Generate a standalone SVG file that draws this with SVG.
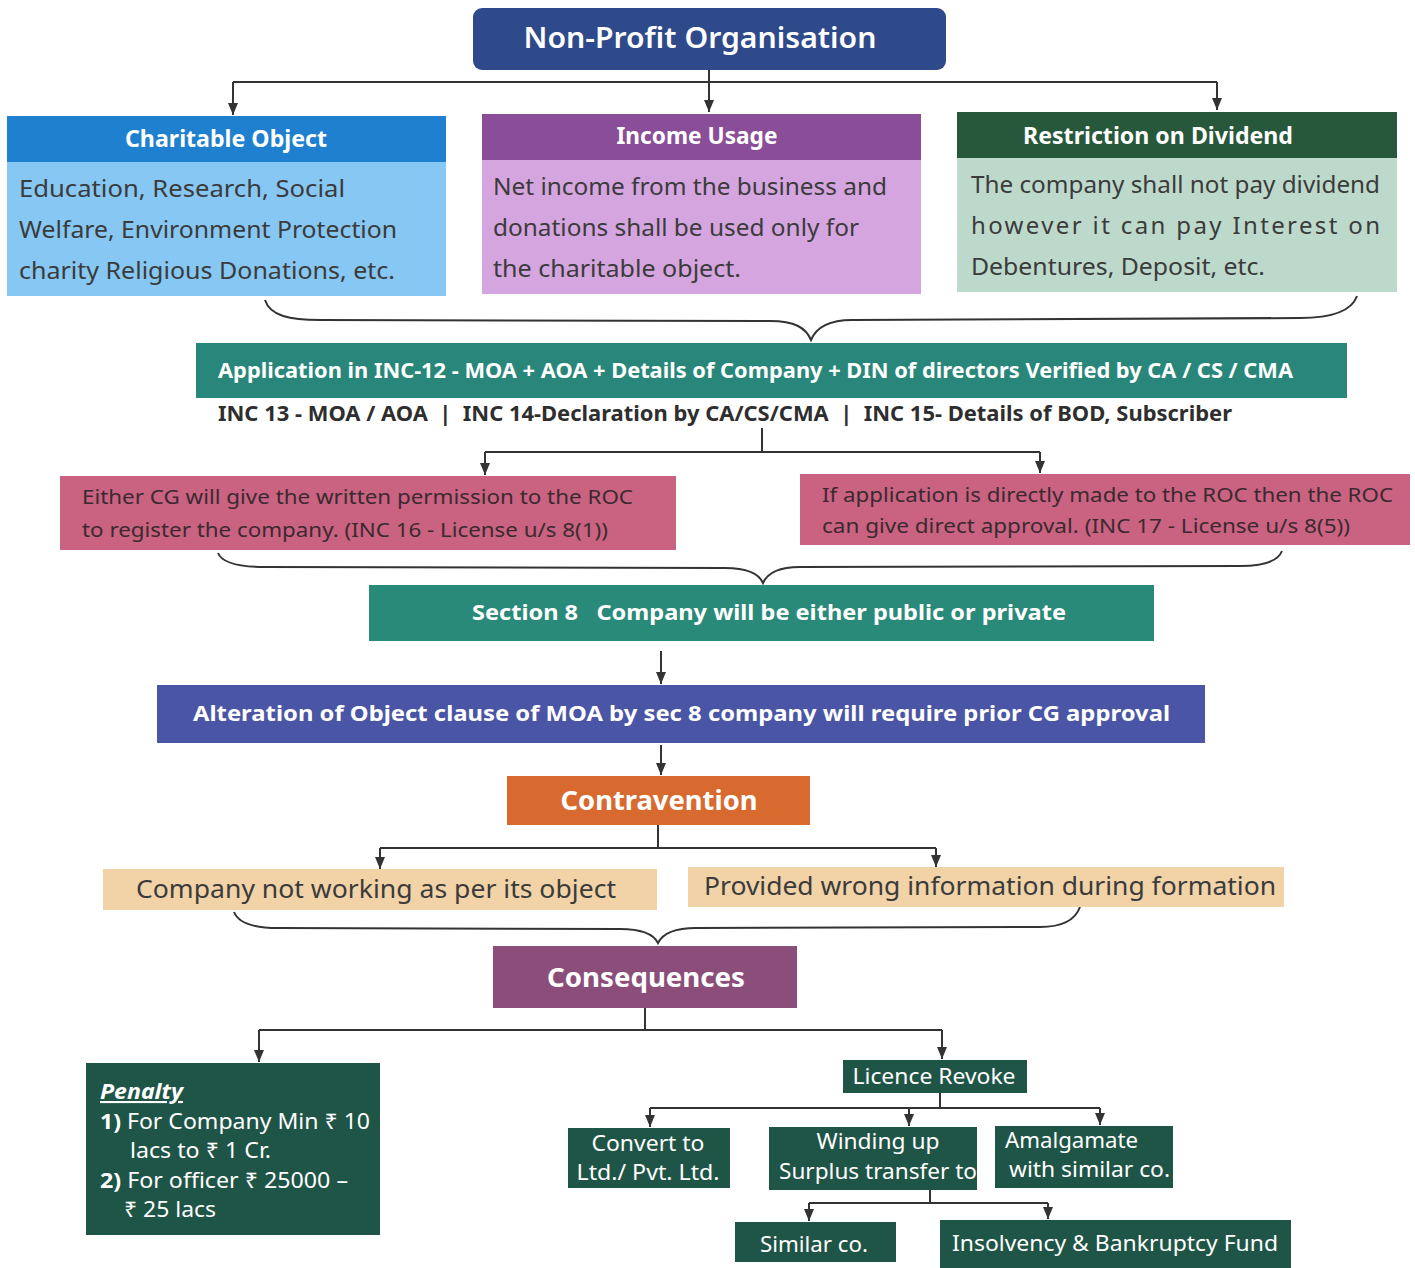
<svg xmlns="http://www.w3.org/2000/svg" width="1415" height="1268" viewBox="0 0 1415 1268">
<defs>
<marker id="ah" viewBox="0 0 12 10" refX="12" refY="5" markerWidth="12" markerHeight="10" markerUnits="userSpaceOnUse" orient="auto">
<path d="M0,0 L12,5 L0,10 Z" fill="#333"/>
</marker>
<style>
text{font-family:"Noto Sans","Open Sans","DejaVu Sans",sans-serif;}
.w{fill:#ffffff;}
.body{fill:#3b3b3b;font-size:24px;}
.hd{font-size:23px;font-weight:bold;fill:#fff;}
.bar{font-size:21px;font-weight:bold;fill:#fff;}
.pk{font-size:20px;fill:#3a2a30;}
.tan{font-size:25px;fill:#3b3b3b;}
.dg{font-size:21px;fill:#fff;}
.ln{fill:none;stroke:#333;stroke-width:2;}
.br{fill:none;stroke:#333;stroke-width:2;}
</style>
</defs>
<rect width="1415" height="1268" fill="#ffffff"/>

<g id="connectors">
<path class="ln" d="M709,70 V82 M233,82 H1217"/>
<path class="ln" d="M233,82 V115" marker-end="url(#ah)"/>
<path class="ln" d="M709,82 V112" marker-end="url(#ah)"/>
<path class="ln" d="M1217,82 V110" marker-end="url(#ah)"/>
<path class="br" d="M265,300 C270,316 290,320 320,320 L770,321 C795,321 806,328 811,340 C816,328 827,320 852,320 L1300,318 C1335,318 1352,310 1357,296"/>
<path class="ln" d="M762,428 V452 M485,452 H1040"/>
<path class="ln" d="M485,452 V475" marker-end="url(#ah)"/>
<path class="ln" d="M1040,452 V473" marker-end="url(#ah)"/>
<path class="br" d="M218,553 C222,563 238,567 265,567 L725,568 C748,568 759,574 763,583 C767,574 778,567 800,567 L1240,566 C1265,566 1278,561 1282,551"/>
<path class="ln" d="M661,651 V684" marker-end="url(#ah)"/>
<path class="ln" d="M661,745 V775" marker-end="url(#ah)"/>
<path class="ln" d="M658,825 V848 M380,848 H936"/>
<path class="ln" d="M380,848 V869" marker-end="url(#ah)"/>
<path class="ln" d="M936,848 V867" marker-end="url(#ah)"/>
<path class="br" d="M234,912 C238,922 252,928 278,928 L620,929 C643,929 654,935 658,943 C662,935 673,928 696,928 L1040,927 C1066,927 1076,918 1080,907"/>
<path class="ln" d="M645,1008 V1030 M259,1030 H942"/>
<path class="ln" d="M259,1030 V1062" marker-end="url(#ah)"/>
<path class="ln" d="M942,1030 V1059" marker-end="url(#ah)"/>
<path class="ln" d="M940,1093 V1108 M650,1108 H1100"/>
<path class="ln" d="M650,1108 V1127" marker-end="url(#ah)"/>
<path class="ln" d="M909,1108 V1126" marker-end="url(#ah)"/>
<path class="ln" d="M1100,1108 V1125" marker-end="url(#ah)"/>
<path class="ln" d="M930,1190 V1203 M809,1203 H1048"/>
<path class="ln" d="M809,1203 V1221" marker-end="url(#ah)"/>
<path class="ln" d="M1048,1203 V1219" marker-end="url(#ah)"/>
</g>

<g id="node-npo">
<rect x="473" y="8" width="473" height="62" rx="9" fill="#2f4a8a"/>
<text x="700" y="48" text-anchor="middle" class="w" font-size="29" font-weight="600" textLength="353" lengthAdjust="spacingAndGlyphs">Non-Profit Organisation</text>
</g>

<g id="node-charitable">
<rect x="7" y="116" width="439" height="46" fill="#1e80cf"/>
<rect x="7" y="162" width="439" height="134" fill="#86c7f3"/>
<text x="226" y="147" text-anchor="middle" class="hd" textLength="202" lengthAdjust="spacingAndGlyphs">Charitable Object</text>
<text x="19" y="197" class="body" textLength="326" lengthAdjust="spacingAndGlyphs">Education, Research, Social</text>
<text x="19" y="238" class="body" textLength="378" lengthAdjust="spacingAndGlyphs">Welfare, Environment Protection</text>
<text x="19" y="279" class="body" textLength="376" lengthAdjust="spacingAndGlyphs">charity Religious Donations, etc.</text>
</g>

<g id="node-income">
<rect x="482" y="114" width="439" height="46" fill="#8a4e98"/>
<rect x="482" y="160" width="439" height="134" fill="#d5a5e0"/>
<text x="697" y="144" text-anchor="middle" class="hd" textLength="161" lengthAdjust="spacingAndGlyphs">Income Usage</text>
<text x="493" y="195" class="body" textLength="394" lengthAdjust="spacingAndGlyphs">Net income from the business and</text>
<text x="493" y="236" class="body" textLength="366" lengthAdjust="spacingAndGlyphs">donations shall be used only for</text>
<text x="493" y="277" class="body" textLength="248" lengthAdjust="spacingAndGlyphs">the charitable object.</text>
</g>

<g id="node-dividend">
<rect x="957" y="112" width="440" height="46" fill="#27583b"/>
<rect x="957" y="158" width="440" height="134" fill="#bdd9cc"/>
<text x="1158" y="144" text-anchor="middle" class="hd" textLength="270" lengthAdjust="spacingAndGlyphs">Restriction on Dividend</text>
<text x="971" y="193" class="body" textLength="409" lengthAdjust="spacingAndGlyphs">The company shall not pay dividend</text>
<text x="971" y="234" class="body" textLength="409" lengthAdjust="spacing">however it can pay Interest on</text>
<text x="971" y="275" class="body" textLength="294" lengthAdjust="spacingAndGlyphs">Debentures, Deposit, etc.</text>
</g>

<g id="node-application">
<rect x="196" y="343" width="1151" height="55" fill="#28877a"/>
<text x="218" y="378" class="bar" textLength="1075" lengthAdjust="spacingAndGlyphs">Application in INC-12 - MOA + AOA + Details of Company + DIN of directors Verified by CA / CS / CMA</text>
</g>

<g id="node-inc">
<text x="218" y="421" font-size="21" font-weight="bold" fill="#2e2e2e" textLength="1014" lengthAdjust="spacingAndGlyphs" xml:space="preserve">INC 13 - MOA / AOA  |  INC 14-Declaration by CA/CS/CMA  |  INC 15- Details of BOD, Subscriber</text>
</g>

<g id="node-cg">
<rect x="60" y="476" width="616" height="74" fill="#ca6281"/>
<text x="82" y="504" class="pk" textLength="551" lengthAdjust="spacingAndGlyphs">Either CG will give the written permission to the ROC</text>
<text x="82" y="537" class="pk" textLength="526" lengthAdjust="spacingAndGlyphs">to register the company. (INC 16 - License u/s 8(1))</text>
</g>

<g id="node-roc">
<rect x="800" y="474" width="610" height="71" fill="#ca6281"/>
<text x="822" y="502" class="pk" textLength="571" lengthAdjust="spacingAndGlyphs">If application is directly made to the ROC then the ROC</text>
<text x="822" y="533" class="pk" textLength="528" lengthAdjust="spacingAndGlyphs">can give direct approval. (INC 17 - License u/s 8(5))</text>
</g>

<g id="node-section8">
<rect x="369" y="585" width="785" height="56" fill="#2a8a7a"/>
<text x="472" y="620" class="bar" textLength="594" lengthAdjust="spacingAndGlyphs" xml:space="preserve">Section 8   Company will be either public or private</text>
</g>

<g id="node-alteration">
<rect x="157" y="685" width="1048" height="58" fill="#4a55a6"/>
<text x="193" y="721" class="bar" textLength="977" lengthAdjust="spacingAndGlyphs">Alteration of Object clause of MOA by sec 8 company will require prior CG approval</text>
</g>

<g id="node-contravention">
<rect x="507" y="776" width="303" height="49" fill="#d96a2f"/>
<text x="659" y="810" text-anchor="middle" font-size="27" font-weight="bold" fill="#fff" textLength="197" lengthAdjust="spacingAndGlyphs">Contravention</text>
</g>

<g id="node-notworking">
<rect x="103" y="869" width="554" height="41" fill="#f1d3a7"/>
<text x="136" y="898" class="tan" textLength="480" lengthAdjust="spacingAndGlyphs">Company not working as per its object</text>
</g>

<g id="node-wronginfo">
<rect x="688" y="867" width="596" height="40" fill="#f1d3a7"/>
<text x="704" y="895" class="tan" textLength="572" lengthAdjust="spacingAndGlyphs">Provided wrong information during formation</text>
</g>

<g id="node-consequences">
<rect x="493" y="946" width="304" height="62" fill="#8b4e7b"/>
<text x="646" y="987" text-anchor="middle" font-size="27" font-weight="bold" fill="#fff" textLength="198" lengthAdjust="spacingAndGlyphs">Consequences</text>
</g>

<g id="node-penalty">
<rect x="86" y="1063" width="294" height="172" fill="#1f5547"/>
<text x="100" y="1099" class="dg" font-style="italic" font-weight="bold" text-decoration="underline" textLength="83" lengthAdjust="spacingAndGlyphs">Penalty</text>
<text x="100" y="1129" class="dg" textLength="270" lengthAdjust="spacingAndGlyphs"><tspan font-weight="bold">1)</tspan> For Company Min ₹ 10</text>
<text x="130" y="1158" class="dg" textLength="141" lengthAdjust="spacingAndGlyphs">lacs to ₹ 1 Cr.</text>
<text x="100" y="1188" class="dg" textLength="248" lengthAdjust="spacingAndGlyphs"><tspan font-weight="bold">2)</tspan> For officer ₹ 25000 –</text>
<text x="124" y="1217" class="dg" textLength="92" lengthAdjust="spacingAndGlyphs">₹ 25 lacs</text>
</g>

<g id="node-licence">
<rect x="843" y="1060" width="184" height="33" fill="#1f5547"/>
<text x="934" y="1084" text-anchor="middle" class="dg" textLength="163" lengthAdjust="spacingAndGlyphs">Licence Revoke</text>
</g>

<g id="node-convert">
<rect x="568" y="1128" width="162" height="60" fill="#1f5547"/>
<text x="648" y="1151" text-anchor="middle" class="dg" textLength="113" lengthAdjust="spacingAndGlyphs">Convert to</text>
<text x="648" y="1180" text-anchor="middle" class="dg" textLength="143" lengthAdjust="spacingAndGlyphs">Ltd./ Pvt. Ltd.</text>
</g>

<g id="node-winding">
<rect x="769" y="1127" width="208" height="63" fill="#1f5547"/>
<text x="878" y="1149" text-anchor="middle" class="dg" textLength="123" lengthAdjust="spacingAndGlyphs">Winding up</text>
<text x="878" y="1179" text-anchor="middle" class="dg" textLength="198" lengthAdjust="spacingAndGlyphs">Surplus transfer to</text>
</g>

<g id="node-amalgamate">
<rect x="995" y="1126" width="178" height="62" fill="#1f5547"/>
<text x="1005" y="1148" class="dg" textLength="133" lengthAdjust="spacingAndGlyphs">Amalgamate</text>
<text x="1009" y="1177" class="dg" textLength="161" lengthAdjust="spacingAndGlyphs">with similar co.</text>
</g>

<g id="node-similar">
<rect x="735" y="1222" width="161" height="40" fill="#1f5547"/>
<text x="814" y="1252" text-anchor="middle" class="dg" textLength="108" lengthAdjust="spacingAndGlyphs">Similar co.</text>
</g>

<g id="node-ibf">
<rect x="940" y="1220" width="351" height="48" fill="#1f5547"/>
<text x="1115" y="1251" text-anchor="middle" class="dg" textLength="326" lengthAdjust="spacingAndGlyphs">Insolvency &amp; Bankruptcy Fund</text>
</g>
</svg>
